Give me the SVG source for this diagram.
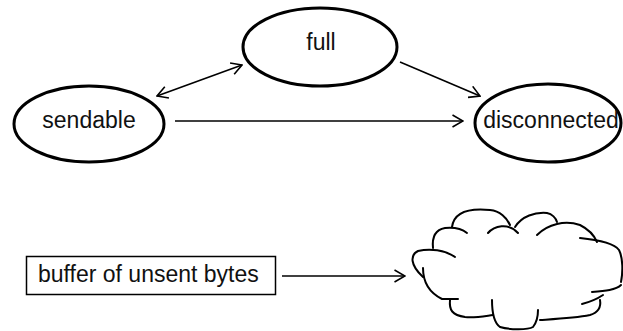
<svg xmlns="http://www.w3.org/2000/svg" width="623" height="331" viewBox="0 0 623 331">
<style>
.state{fill:#fff;stroke:#000;stroke-width:3}
.lbl{font-family:"Liberation Sans",Arial,Helvetica,sans-serif;font-size:23px;fill:#111}
.conn{fill:none;stroke:#000;stroke-width:1.6}
.cloud{fill:none;stroke:#000;stroke-width:2;stroke-linecap:round}
</style>
<defs>
<marker id="arr" viewBox="0 0 12 14" refX="11" refY="7" markerWidth="12" markerHeight="14" markerUnits="userSpaceOnUse" orient="auto-start-reverse">
<path d="M0.5,1 L11,7 L0.5,13" fill="none" stroke="#000" stroke-width="1.6"/>
</marker>
</defs>
<rect width="623" height="331" fill="#fff"/>
<g id="connectors">
<line class="conn" x1="157" y1="96" x2="242" y2="65" marker-start="url(#arr)" marker-end="url(#arr)"/>
<line class="conn" x1="400" y1="62" x2="480" y2="96" marker-end="url(#arr)"/>
<line class="conn" x1="175" y1="121" x2="463" y2="121" marker-end="url(#arr)"/>
<line class="conn" x1="282" y1="276" x2="405" y2="276" marker-end="url(#arr)"/>
</g>
<g id="node-sendable">
<ellipse class="state" cx="89" cy="124" rx="75" ry="38"/>
<text class="lbl" x="89" y="128" text-anchor="middle">sendable</text>
</g>
<g id="node-full">
<ellipse class="state" cx="320" cy="47" rx="77" ry="39"/>
<text class="lbl" x="321" y="50" text-anchor="middle">full</text>
</g>
<g id="node-disconnected">
<ellipse class="state" cx="548" cy="123" rx="73" ry="39"/>
<text class="lbl" x="551" y="128" text-anchor="middle">disconnected</text>
</g>
<g id="node-buffer">
<rect x="26.5" y="256.5" width="249" height="38" fill="#fff" stroke="#000" stroke-width="1.5"/>
<text class="lbl" x="38" y="282">buffer of unsent bytes</text>
</g>
<g id="node-cloud">
<path class="cloud" d="M452,227 C454,212 470,208 490,210 C500,211 507,218 510,225"/>
<path class="cloud" d="M488,233 C494,226 508,222 518,233"/>
<path class="cloud" d="M515,227 C522,216 535,212 547,213 C552,214 556,218 557,222"/>
<path class="cloud" d="M537,235 C548,224 565,220 580,225 C588,229 594,235 597,242"/>
<path class="cloud" d="M580,238 C600,240 614,243 619,250 C623,258 623,272 621,282"/>
<path class="cloud" d="M592,292 C605,291 616,290 621,285"/>
<path class="cloud" d="M582,304 C590,302 597,299 603,295"/>
<path class="cloud" d="M600,300 C601,306 600,312 590,315 C575,318 555,319 540,320"/>
<path class="cloud" d="M492,300 C492,310 493,322 500,327 C510,330 528,330 533,327 C537,322 538,316 538,310"/>
<path class="cloud" d="M450,300 C449,310 452,315 465,317 C475,318 485,316 493,315"/>
<path class="cloud" d="M423,268 C423,280 428,292 442,299 L458,299"/>
<path class="cloud" d="M455,257 C445,250 430,248 418,251 C410,255 410,265 423,277"/>
<path class="cloud" d="M433,248 C432,238 434,230 445,228 C455,227 462,229 467,233"/>
</g>
</svg>
